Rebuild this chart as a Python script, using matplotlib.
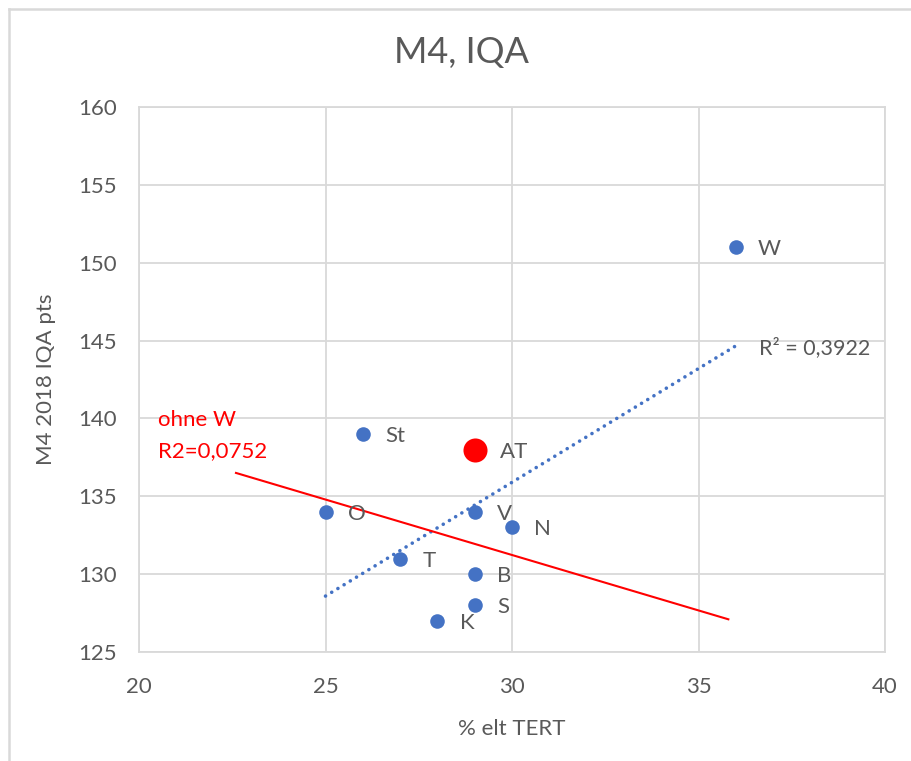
import numpy as np
import matplotlib
matplotlib.use("Agg")
import matplotlib.pyplot as plt
from matplotlib.lines import Line2D

# ---- data ----
labels = ["W", "St", "O", "V", "N", "T", "B", "S", "K"]
x_vals = [36, 26, 25, 29, 30, 27, 29, 29, 28]
y_vals = [151, 139, 134, 134, 133, 131, 130, 128, 127]

at_label = ["AT"]
at_x = [29]
at_y = [138]

r2_text = "R² = 0,3922"
red_x = [22.6, 35.8]          # manual "ohne W" line
red_y = [136.5, 127.1]
red_text = ["ohne W", "R2=0,0752"]

x_ticks = [20, 25, 30, 35, 40]
y_ticks = [125, 130, 135, 140, 145, 150, 155, 160]

# ---- style ----
plt.rcParams['font.family'] = ['Lato', 'DejaVu Sans']
TXT = '#595959'
BLUE = '#4472C4'
GRID = '#D9D9D9'
FS = 16

fig = plt.figure(figsize=(9.11, 7.61), dpi=100)
ax = fig.add_axes([139/911, 1-652/761, (885-139)/911, (652-107)/761])

ax.set_xlim(20, 40)
ax.set_ylim(125, 160)
ax.set_xticks(x_ticks)
ax.set_yticks(y_ticks)
ax.grid(True, color=GRID, linewidth=1.3)
ax.set_axisbelow(True)
for s in ax.spines.values():
    s.set_color(GRID)
    s.set_linewidth(1.3)
ax.tick_params(length=0, labelsize=FS, colors=TXT)
ax.tick_params(axis='x', pad=18)
ax.tick_params(axis='y', pad=16)

# trendline of blue series
coef = np.polyfit(x_vals, y_vals, 1)
tx = np.array([min(x_vals), max(x_vals)])
ty = np.polyval(coef, tx)
ax.plot(tx, ty, color=BLUE, linewidth=2.6, linestyle=(0, (0.01, 2.0)),
        dash_capstyle='round', zorder=2)
ax.annotate(r2_text, (tx[1], ty[1]), xytext=(17, 0), textcoords='offset points',
            fontsize=FS-0.5, color=TXT, va='center_baseline', ha='left')

# red manual line
ax.plot(red_x, red_y, color='#FF0000', linewidth=1.5, zorder=2)
ax.text(20.5, 140.0, red_text[0], color='#FF0000', fontsize=FS, va='center_baseline', ha='left')
ax.text(20.5, 138.0, red_text[1], color='#FF0000', fontsize=FS, va='center_baseline', ha='left')

# points
ax.scatter(x_vals, y_vals, s=110, color=BLUE, zorder=3, linewidths=0)
ax.scatter(at_x, at_y, s=300, color='#FF0000', zorder=3, linewidths=0)
for lab, xv, yv in zip(labels, x_vals, y_vals):
    ax.annotate(lab, (xv, yv), xytext=(16, 0), textcoords='offset points',
                fontsize=FS, color=TXT, va='center_baseline', ha='left')
for lab, xv, yv in zip(at_label, at_x, at_y):
    ax.annotate(lab, (xv, yv), xytext=(18, 0), textcoords='offset points',
                fontsize=FS, color=TXT, va='center_baseline', ha='left')

ax.set_xlabel("% elt TERT", fontsize=FS, color=TXT, labelpad=16)
ax.set_ylabel("M4 2018 IQA pts", fontsize=FS, color=TXT, labelpad=16)
fig.text(462/911, 1-52/761, "M4, IQA", fontsize=26, color=TXT, ha='center', va='center')

# outer chart border (top and left visible)
fig.add_artist(Line2D([8.5/911, 1], [1-8.5/761, 1-8.5/761], color=GRID, linewidth=1.8))
fig.add_artist(Line2D([8.5/911, 8.5/911], [0, 1-8.5/761], color=GRID, linewidth=1.8))

fig.savefig("out.png", dpi=100, facecolor='white')
